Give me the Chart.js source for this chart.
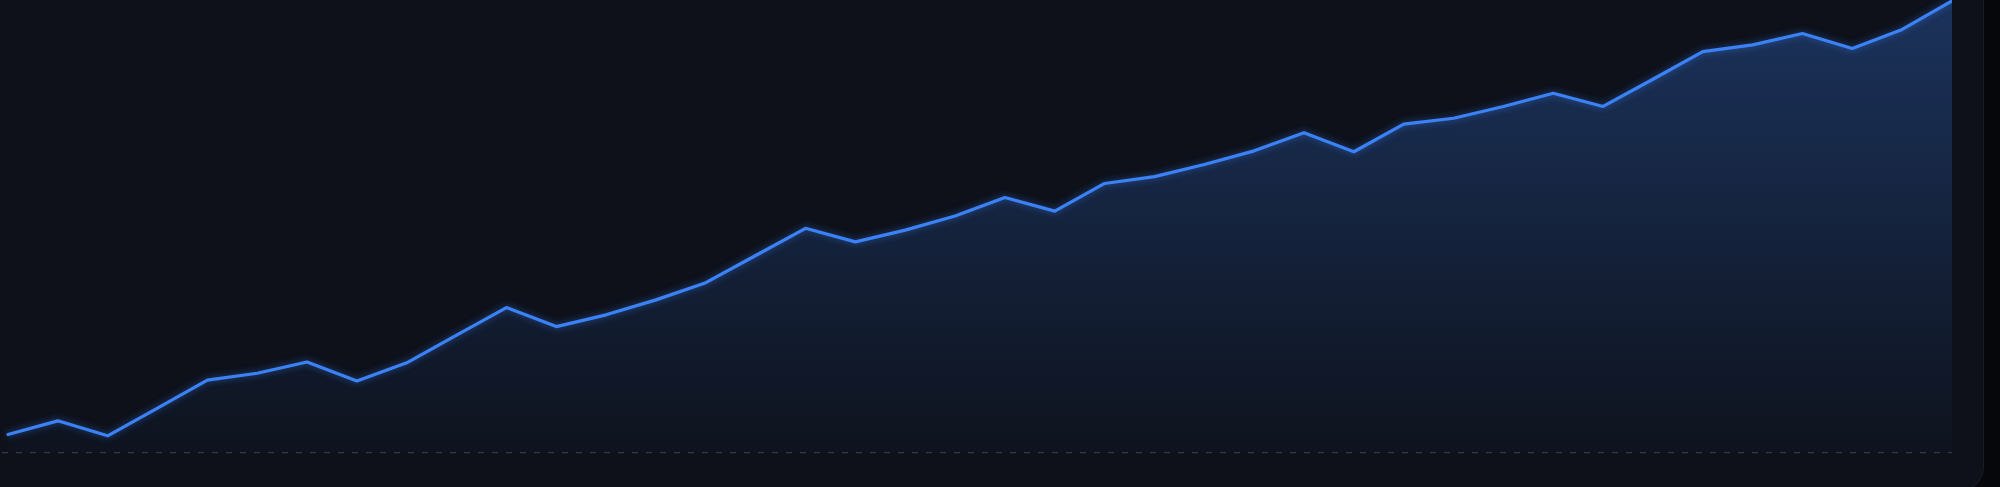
<!DOCTYPE html>
<html>
<head>
<meta charset="utf-8">
<script src="https://cdn.jsdelivr.net/npm/chart.js@4.4.1/dist/chart.umd.min.js"></script>
<style>
  html, body { margin: 0; padding: 0; width: 2000px; height: 487px; overflow: hidden; background: #05070b; }
  .card {
    position: absolute; left: -30px; top: -30px; width: 2014px; height: 521px;
    background: #0e111a; border: 1px solid rgba(255,255,255,0.05);
    border-radius: 24px; box-sizing: border-box;
  }
  .wrap { position: absolute; left: 0; top: 0; width: 1952px; height: 460px; }
</style>
</head>
<body>
<div class="card"></div>
<div class="wrap"><canvas id="c"></canvas></div>
<script>
// Period labels (not displayed in the reference)
const labels = Array.from({length: 40}, (_, i) => 'P' + (i + 1));
// Series values (0 = dashed baseline, 100 = top edge)
const values = [
  4.1, 7.1, 3.8, 9.9, 16.1, 17.6, 20.1, 15.9, 19.9, 26.0,
  32.1, 27.9, 30.5, 33.8, 37.6, 43.6, 49.6, 46.6, 49.2, 52.3,
  56.4, 53.4, 59.5, 61.0, 63.7, 66.7, 70.7, 66.5, 72.6, 73.9,
  76.5, 79.4, 76.5, 82.5, 88.6, 90.1, 92.6, 89.3, 93.5, 99.8
];
const yMin = 0, yMax = 100;

const points = values.map((v, i) => ({ x: i, y: v }));

const glow = {
  id: 'glow',
  beforeDatasetDraw(chart) {
    const c = chart.ctx;
    c.save();
    c.shadowColor = 'rgba(59,130,246,0.55)';
    c.shadowBlur = 7;
  },
  afterDatasetDraw(chart) {
    chart.ctx.restore();
  }
};

new Chart(document.getElementById('c'), {
  type: 'line',
  data: {
    labels,
    datasets: [{
      data: points,
      borderColor: '#3b82f6',
      borderWidth: 3.2,
      tension: 0,
      pointRadius: 0,
      pointHoverRadius: 0,
      borderJoinStyle: 'round',
      borderCapStyle: 'round',
      fill: 'origin',
      backgroundColor: (ctx) => {
        const ca = ctx.chart.chartArea;
        if (!ca) return 'rgba(59,130,246,0.15)';
        const g = ctx.chart.ctx.createLinearGradient(0, ca.top, 0, ca.bottom);
        g.addColorStop(0, 'rgba(59,130,246,0.30)');
        g.addColorStop(1, 'rgba(59,130,246,0.02)');
        return g;
      }
    }]
  },
  plugins: [glow],
  options: {
    responsive: true,
    maintainAspectRatio: false,
    animation: false,
    layout: { autoPadding: false, padding: { left: 0, right: 0, top: 0, bottom: 7 } },
    plugins: { legend: { display: false }, tooltip: { enabled: false } },
    scales: {
      x: {
        type: 'linear', min: -0.16, max: labels.length - 1,
        display: false
      },
      y: {
        min: yMin, max: yMax,
        display: true,
        afterFit: (s) => { s.width = 0; },
        ticks: { display: false, stepSize: 20 },
        border: { display: false, dash: [6, 8], dashOffset: -2 },
        grid: {
          drawTicks: false,
          lineWidth: 1.2,
          color: (ctx) => (ctx.tick && ctx.tick.value === yMin) ? 'rgba(255,255,255,0.17)' : 'rgba(0,0,0,0)'
        }
      }
    }
  }
});
</script>
</body>
</html>
